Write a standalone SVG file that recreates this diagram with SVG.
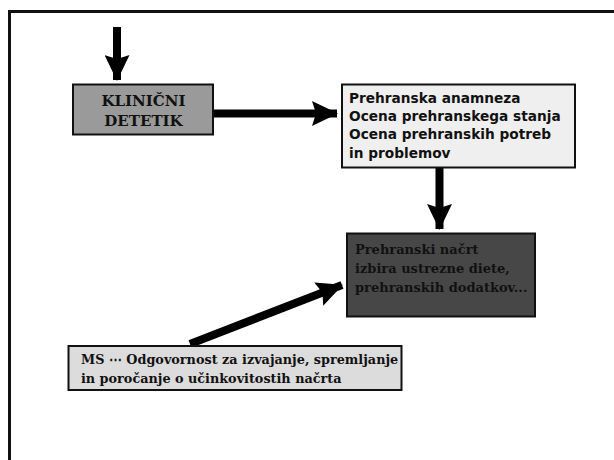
<svg xmlns="http://www.w3.org/2000/svg" width="614" height="460" viewBox="0 0 614 460">
<style>
.box{stroke:#111;stroke-width:2}
.serif{font-family:"DejaVu Serif","Liberation Serif",serif;font-weight:bold;fill:#111}
.sans{font-family:"DejaVu Sans","Liberation Sans",sans-serif;font-weight:bold;fill:#111}
.arrow{stroke:#000;stroke-width:8;fill:none;marker-end:url(#head)}
</style>
<defs>
<marker id="head" viewBox="0 0 26 25" markerWidth="26" markerHeight="25" refX="25" refY="12.5" orient="auto" markerUnits="userSpaceOnUse">
<path d="M0,0 L26,12.5 L0,25 L4,12.5 Z" fill="#000"/>
</marker>
</defs>
<rect width="614" height="460" fill="#fff"/>
<path d="M9.5,460 V11.5 H614" fill="none" stroke="#111" stroke-width="3"/>
<g id="connectors">
<line class="arrow" x1="117" y1="27" x2="117" y2="80"/>
<line class="arrow" x1="214" y1="113.5" x2="337" y2="113.5"/>
<line class="arrow" x1="439.5" y1="168" x2="439.5" y2="229"/>
<line class="arrow" x1="190" y1="344" x2="342" y2="285"/>
</g>
<g id="klinicni">
<rect class="box" x="73" y="84.5" width="140" height="50" fill="#9a9a9a"/>
<text class="serif" font-size="15" text-anchor="middle"><tspan x="143.5" y="106">KLINIČNI</tspan><tspan x="143.5" y="126">DETETIK</tspan></text>
</g>
<g id="ocena">
<rect class="box" x="342" y="84.5" width="233" height="83" fill="#efefef"/>
<text class="sans" font-size="13.7"><tspan x="349" y="103">Prehranska anamneza</tspan><tspan x="349" y="121">Ocena prehranskega stanja</tspan><tspan x="349" y="139.3">Ocena prehranskih potreb</tspan><tspan x="349" y="157.5">in problemov</tspan></text>
</g>
<g id="nacrt">
<rect class="box" x="347" y="233.5" width="188" height="83" fill="#474747"/>
<text class="serif" font-size="13"><tspan x="355" y="253.5">Prehranski načrt</tspan><tspan x="355" y="272.7">izbira ustrezne diete,</tspan><tspan x="355" y="291.8">prehranskih dodatkov...</tspan></text>
</g>
<g id="ms">
<rect class="box" x="68.5" y="346" width="333" height="44" fill="#dcdcdc"/>
<text class="serif" font-size="12.8"><tspan x="81" y="364">MS ⋯ Odgovornost za izvajanje, spremljanje</tspan><tspan x="81" y="382.5">in poročanje o učinkovitostih načrta</tspan></text>
</g>
</svg>
